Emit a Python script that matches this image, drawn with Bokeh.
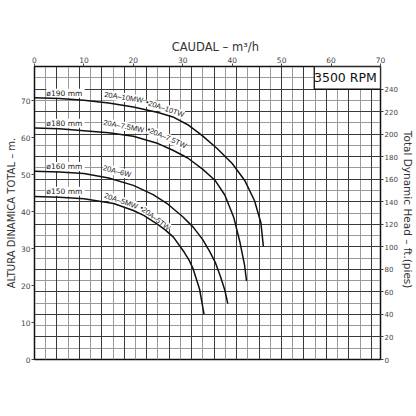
from bokeh.plotting import figure
from bokeh.models import Range1d, LinearAxis, FixedTicker, Grid, BoxAnnotation, Label, ColumnDataSource
from bokeh.core.properties import value
from bokeh.embed import file_html
from bokeh.resources import INLINE
import math

# ---- data ----
q_190 = [0, 5, 10, 15, 20, 25, 28, 31, 34, 37, 40, 42.5, 44.5, 45.8, 46.3]
h_190 = [70.8, 70.6, 70.1, 69.4, 68.3, 66.8, 65.6, 63.5, 60.5, 57.0, 53.0, 48.5, 43.0, 37.0, 30.6]

q_180 = [0, 5, 10, 15, 20, 25, 28, 31, 34, 36.5, 38.5, 40.3, 41.6, 42.5, 42.9]
h_180 = [62.6, 62.4, 61.9, 61.3, 60.4, 58.4, 56.6, 54.5, 51.5, 48.5, 44.5, 38.5, 31.5, 25.5, 21.2]

q_160 = [0, 5, 10, 15, 20, 24, 27, 30, 32.1, 34, 35.4, 36.6, 37.6, 38.5, 39.1]
h_160 = [50.9, 50.7, 50.3, 49.1, 47.1, 44.6, 42.0, 38.6, 35.8, 32.5, 29.3, 26.2, 22.5, 18.8, 15.1]

q_150 = [0, 5, 10, 16, 20, 22.1, 25, 26.5, 28.1, 30.3, 31.3, 32.1, 33.4, 34.3]
h_150 = [44.1, 43.9, 43.5, 42.2, 40.3, 39.0, 36.5, 35.0, 33.1, 29.0, 26.8, 24.5, 19.0, 12.2]

diam_labels = ["ø190  mm", "ø180  mm", "ø160  mm", "ø150  mm"]
diam_x = [2.4, 2.4, 2.4, 2.4]
diam_y = [72.0, 63.9, 52.2, 45.5]

model_labels = ["20A–10MW", "•20A–10TW", "20A–7.5MW", "•20A–7.5TW", "20A–6W", "20A–5MW", "•20A–5TW"]
model_x = [18.05, 26.4, 18.05, 26.8, 16.7, 17.5, 24.4]
model_y = [70.9, 67.9, 63.1, 60.0, 50.9, 42.9, 38.3]
model_angle_deg = [-9, -19, -11, -24, -15, -19, -37]

x_ticks = [0, 10, 20, 30, 40, 50, 60, 70]
y_ticks_m = [0, 10, 20, 30, 40, 50, 60, 70]
y_ticks_ft = [0, 20, 40, 60, 80, 100, 120, 140, 160, 180, 200, 220, 240]
rpm_text = "3500  RPM"

# unit conversions
M3H_PER_GPM = 0.2271247
FT_PER_M = 3.28084
Y_TOP_FT = 260
X_MAX = 70

FONT = "DejaVu Sans"

p = figure(width=416, height=416, output_backend="svg", toolbar_location=None,
           x_range=Range1d(0, X_MAX), y_range=Range1d(0, Y_TOP_FT / FT_PER_M),
           x_axis_location="above",
           min_border_left=34, min_border_right=33, min_border_top=66, min_border_bottom=57,
           background_fill_color="white", border_fill_color="white")
p.outline_line_color = "#111111"
p.outline_line_width = 1.5
p.xgrid.visible = False
p.ygrid.visible = False

# grid in US units: every 10 gpm and every 10 ft
gpm_vals = list(range(10, 310, 10))
ft_vals = list(range(10, 260, 10))
xdark = [g * M3H_PER_GPM for g in gpm_vals if g % 20 == 0]
xlight = [g * M3H_PER_GPM for g in gpm_vals if g % 20 != 0]
ydark = [f / FT_PER_M for f in ft_vals if f % 20 == 0]
ylight = [f / FT_PER_M for f in ft_vals if f % 20 != 0]
for ticks, dim, col in [(xlight, 0, "#9a9a9a"), (ylight, 1, "#9a9a9a"),
                        (xdark, 0, "#3a3a3a"), (ydark, 1, "#3a3a3a")]:
    g = Grid(dimension=dim, ticker=FixedTicker(ticks=ticks), grid_line_color=col, grid_line_width=1)
    p.add_layout(g)

def style_axis(ax, size="7.5px"):
    ax.major_label_text_font = FONT
    ax.major_label_text_font_size = size
    ax.major_label_text_color = "#444444"
    ax.axis_label_text_font = FONT
    ax.axis_label_text_font_style = "normal"
    ax.axis_label_text_color = "#333333"
    ax.minor_tick_line_color = None
    ax.major_tick_line_color = "#444444"
    ax.major_tick_in = 0
    ax.major_tick_out = 3
    ax.major_label_standoff = 1
    ax.axis_line_color = "#111111"

# top axis
xa = p.xaxis[0]
xa.ticker = FixedTicker(ticks=x_ticks)
xa.axis_label = "\u2003\u2003CAUDAL  –  m³/h"
style_axis(xa)
xa.axis_label_text_font_size = "11.5px"
xa.axis_label_standoff = 0

# left axis
ya = p.yaxis[0]
ya.ticker = FixedTicker(ticks=y_ticks_m)
ya.axis_label = "ALTURA DINAMICA TOTAL – m."
style_axis(ya)
ya.axis_label_text_font_size = "10px"
ya.axis_label_standoff = 1

# right axis in feet
p.extra_y_ranges = {"ft": Range1d(0, Y_TOP_FT)}
ra = LinearAxis(y_range_name="ft", ticker=FixedTicker(ticks=y_ticks_ft),
                axis_label="Total Dynamic Head  –  ft.(pies)")
style_axis(ra, "7px")
ra.axis_label_text_font_size = "10.5px"
ra.axis_label_standoff = 1
p.add_layout(ra, "right")

# labels (drawn before curves so the curves stay continuous)
src_d = ColumnDataSource(dict(x=diam_x, y=diam_y, t=diam_labels))
p.text(x="x", y="y", text="t", source=src_d, text_font=value(FONT), text_font_size="7.5px",
       text_color="#222222", text_align="left", text_baseline="middle",
       background_fill_color="white", padding=0)

src_m = ColumnDataSource(dict(x=model_x, y=model_y, t=model_labels,
                              a=[math.radians(a) for a in model_angle_deg]))
p.text(x="x", y="y", text="t", angle="a", source=src_m, text_font=value("Liberation Sans"),
       text_font_size="7.5px", text_color="#222222", text_align="center", text_baseline="middle",
       background_fill_color="white", padding=0)

# curves
for q, h in [(q_190, h_190), (q_180, h_180), (q_160, h_160), (q_150, h_150)]:
    p.line(q, h, line_color="#111111", line_width=1.5)

# RPM box
box = BoxAnnotation(left=56.6, bottom=73.1, fill_color="white", fill_alpha=1.0,
                    line_color="#111111", line_width=1.3, line_alpha=1.0)
p.add_layout(box)
p.add_layout(Label(x=63.3, y=76.2, text=rpm_text, text_font=FONT, text_font_size="12.5px",
                   text_color="#111111", text_align="center", text_baseline="middle"))

open("out.html", "w").write(file_html(p, INLINE))
